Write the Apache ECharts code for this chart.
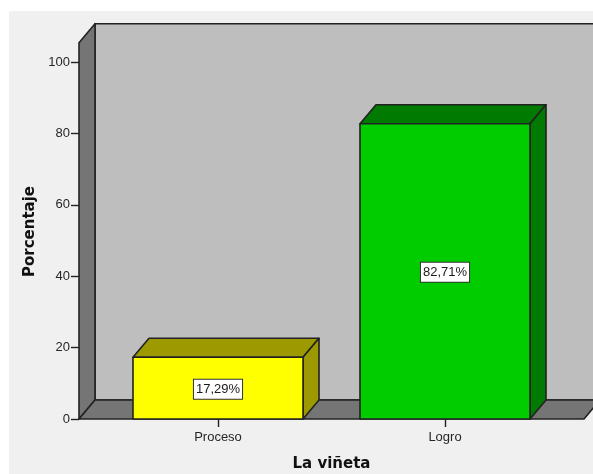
<!DOCTYPE html>
<html>
<head>
<meta charset="utf-8">
<style>html,body{margin:0;padding:0;background:#fff}#c{width:593px;height:474px}</style>
<script src="https://cdn.jsdelivr.net/npm/echarts@6/dist/echarts.min.js"></script>
</head>
<body>
<div id="c"></div>
<script>
const categories = ['Proceso', 'Logro'];
const percentages = [17.29, 82.71];
const percentLabels = ['17,29%', '82,71%'];
const frontColors = ['#ffff00', '#00cc00'];
const shadeColors = ['#9c9a00', '#007a00'];
const yTicks = [0, 20, 40, 60, 80, 100];
const wallTopValue = 105.4;

const DX = 16, DY = -19;
const OUT = '#222222';
const LW = 1.6;

function poly(points, fill, lw) {
  return { type: 'polygon', shape: { points }, style: { fill, stroke: OUT, lineWidth: lw || LW, lineJoin: 'round' } };
}

const chart = echarts.init(document.getElementById('c'), null, { renderer: 'canvas' });
chart.setOption({
  animation: false,
  backgroundColor: '#ffffff',
  textStyle: { fontFamily: '"Liberation Sans", Arial, sans-serif' },
  graphic: [{ type: 'rect', z: -10, shape: { x: 9, y: 11, width: 584, height: 463 }, style: { fill: '#f0f0f0' } }],
  grid: { left: 104.5, width: 454, top: 62, height: 357, containLabel: false, outerBoundsMode: 'none' },
  xAxis: {
    type: 'category', data: categories,
    axisLine: { show: false },
    axisTick: { show: true, alignWithLabel: true, length: 8, lineStyle: { color: OUT, width: 1.4 } },
    axisLabel: { color: '#262626', fontSize: 13, margin: 12 },
    name: 'La viñeta', nameLocation: 'middle', nameGap: 38,
    nameTextStyle: { color: '#111', fontSize: 15, fontWeight: 'bold', fontFamily: '"DejaVu Sans", sans-serif' }
  },
  yAxis: {
    type: 'value', min: 0, max: 100, interval: 20, offset: 25.5,
    axisLine: { show: false }, splitLine: { show: false },
    axisTick: { show: true, length: 8, lineStyle: { color: OUT, width: 1.4 } },
    axisLabel: { color: '#262626', fontSize: 13, margin: 9, padding: [3, 0, 0, 0], customValues: yTicks },
    name: 'Porcentaje', nameLocation: 'middle', nameGap: 25,
    nameTextStyle: { color: '#111', fontSize: 15, fontWeight: 'bold', fontFamily: '"DejaVu Sans", sans-serif', padding: [0, 0, 0, 18] }
  },
  series: [
    {
      type: 'custom', coordinateSystem: 'cartesian2d', clip: false, silent: true, z: 1,
      data: [[0, 0]],
      renderItem(params, api) {
        const a = api.coord([0, 0]), b = api.coord([1, 0]);
        const band = b[0] - a[0];
        const L = a[0] - band * 0.6123, R = b[0] + band * 0.6123;
        const yB = a[1], yT = api.coord([0, wallTopValue])[1];
        return { type: 'group', children: [
          poly([[L + DX, yT + DY], [R + DX, yT + DY], [R + DX, yB + DY], [L + DX, yB + DY]], '#bebebe'),
          poly([[L, yT], [L + DX, yT + DY], [L + DX, yB + DY], [L, yB]], '#757575'),
          poly([[L, yB], [L + DX, yB + DY], [R + DX, yB + DY], [R, yB]], '#757575')
        ] };
      }
    },
    {
      type: 'custom', coordinateSystem: 'cartesian2d', clip: false, silent: true, z: 2,
      encode: { x: 0, y: 1 },
      data: categories.map((c, i) => [i, percentages[i]]),
      renderItem(params, api) {
        const i = api.value(0), v = api.value(1);
        const base = api.coord([i, 0]), top = api.coord([i, v]);
        const band = api.size([1, 0])[0];
        const w = band * 0.749;
        const x0 = base[0] - w / 2, x1 = base[0] + w / 2;
        return { type: 'group', children: [
          poly([[x0, top[1]], [x0 + DX, top[1] + DY], [x1 + DX, top[1] + DY], [x1, top[1]]], shadeColors[i]),
          poly([[x1, top[1]], [x1 + DX, top[1] + DY], [x1 + DX, base[1] + DY], [x1, base[1]]], shadeColors[i]),
          poly([[x0, top[1]], [x1, top[1]], [x1, base[1]], [x0, base[1]]], frontColors[i]),
          { type: 'text', z2: 10, style: {
              x: base[0], y: (top[1] + base[1]) / 2 + 1,
              text: percentLabels[i], align: 'center', verticalAlign: 'middle',
              font: '13px "Liberation Sans", Arial, sans-serif', fill: '#1a1a1a',
              backgroundColor: '#ffffff', borderColor: '#333333', borderWidth: 1,
              padding: [3, 2, 3, 2]
          } }
        ] };
      }
    }
  ]
});
</script>
</body>
</html>
